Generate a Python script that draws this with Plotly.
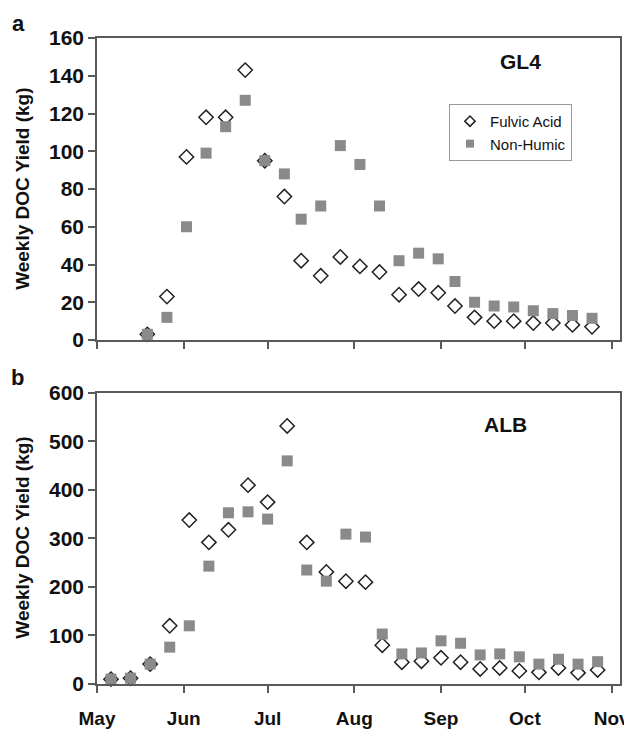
import plotly.graph_objects as go

# ---- Data ----
gl4_dates = ["2000-05-19", "2000-05-26", "2000-06-02", "2000-06-09", "2000-06-16", "2000-06-23",
             "2000-06-30", "2000-07-07", "2000-07-13", "2000-07-20", "2000-07-27", "2000-08-03",
             "2000-08-10", "2000-08-17", "2000-08-24", "2000-08-31", "2000-09-06", "2000-09-13",
             "2000-09-20", "2000-09-27", "2000-10-04", "2000-10-11", "2000-10-18", "2000-10-25"]
gl4_fulvic = [3, 23, 97, 118, 118, 143, 95, 76, 42, 34, 44, 39, 36, 24, 27, 25, 18, 12, 10, 10, 9, 9, 8, 7]
gl4_nonhumic = [3, 12, 60, 99, 113, 127, 95, 88, 64, 71, 103, 93, 71, 42, 46, 43, 31, 20, 18, 17.5, 15.5, 14, 13, 11.5]

alb_dates = ["2000-05-06", "2000-05-13", "2000-05-20", "2000-05-27", "2000-06-03", "2000-06-10",
             "2000-06-17", "2000-06-24", "2000-07-01", "2000-07-08", "2000-07-15", "2000-07-22",
             "2000-07-29", "2000-08-05", "2000-08-11", "2000-08-18", "2000-08-25", "2000-09-01",
             "2000-09-08", "2000-09-15", "2000-09-22", "2000-09-29", "2000-10-06", "2000-10-13",
             "2000-10-20", "2000-10-27"]
alb_fulvic = [10, 12, 41, 120, 338, 292, 318, 410, 375, 532, 292, 231, 212, 210, 80, 45, 47, 54,
              45, 31, 33, 27, 24, 33, 23, 29]
alb_nonhumic = [10, 12, 41, 76, 120, 243, 353, 355, 340, 460, 235, 212, 309, 303, 103, 62, 64, 89,
                84, 60, 62, 56, 41, 51, 41, 46]

month_ticks = ["2000-05-01", "2000-06-01", "2000-07-01", "2000-08-01", "2000-09-01",
               "2000-10-01", "2000-11-01"]
month_labels = ["May", "Jun", "Jul", "Aug", "Sep", "Oct", "Nov"]
x_range = ["2000-05-01", "2000-11-04"]

FONT = "Liberation Sans, Arial, sans-serif"
SQ_COLOR = "#8a8a8a"
AX_COLOR = "#5a5a5a"

fig = go.Figure()

def add_panel(dates, fulvic, nonhumic, xa, ya):
    fig.add_trace(go.Scatter(x=dates, y=fulvic, mode="markers", xaxis=xa, yaxis=ya,
                             showlegend=False, cliponaxis=False,
                             marker=dict(symbol="diamond", size=11, color="white",
                                         line=dict(color="#222222", width=1.5))))
    fig.add_trace(go.Scatter(x=dates, y=nonhumic, mode="markers", xaxis=xa, yaxis=ya,
                             showlegend=False, cliponaxis=False,
                             marker=dict(symbol="square", size=11, color=SQ_COLOR,
                                         line=dict(width=0))))

add_panel(gl4_dates, gl4_fulvic, gl4_nonhumic, "x", "y")
add_panel(alb_dates, alb_fulvic, alb_nonhumic, "x2", "y2")

# legend-only entries (smaller symbols, as in the reference legend)
fig.add_trace(go.Scatter(x=[None], y=[None], mode="markers", name="Fulvic Acid", xaxis="x", yaxis="y",
                         marker=dict(symbol="diamond", size=8, color="white",
                                     line=dict(color="#222222", width=1.5))))
fig.add_trace(go.Scatter(x=[None], y=[None], mode="markers", name="Non-Humic", xaxis="x", yaxis="y",
                         marker=dict(symbol="square", size=8, color=SQ_COLOR, line=dict(width=0))))

xcommon = dict(type="date", range=x_range, tickmode="array", tickvals=month_ticks,
               ticks="outside", ticklen=7, tickwidth=1.5, tickcolor=AX_COLOR,
               showline=True, linecolor=AX_COLOR, linewidth=1.5, mirror=True,
               showgrid=False, zeroline=False, automargin=False)
ycommon = dict(ticks="outside", ticklen=7, tickwidth=1.5, tickcolor=AX_COLOR,
               showline=True, linecolor=AX_COLOR, linewidth=1.5, mirror=True,
               showgrid=False, zeroline=False, automargin=False,
               tickfont=dict(family=FONT, size=21, color="#111111", weight="bold"))

# page body has an 8px default margin, so the figure is 8px smaller on each side
fig.update_layout(
    width=624, height=722,
    margin=dict(l=89, r=12, t=30, b=46, autoexpand=False),
    paper_bgcolor="white", plot_bgcolor="white",
    font=dict(family=FONT, color="#111111"),
    xaxis=dict(**xcommon, anchor="y", showticklabels=False),
    yaxis=dict(**ycommon, domain=[0.5325, 1.0], range=[0, 160], dtick=20, anchor="x"),
    xaxis2=dict(**xcommon, anchor="y2", ticktext=month_labels, ticklabelstandoff=9,
                tickfont=dict(family=FONT, size=19, color="#111111", weight="bold")),
    yaxis2=dict(**ycommon, domain=[0.0, 0.4505], range=[0, 600], dtick=100, anchor="x2"),
    showlegend=True,
    legend=dict(x=0.673, y=0.898, xanchor="left", yanchor="top",
                bgcolor="white", bordercolor="#9a9a9a", borderwidth=1,
                font=dict(family=FONT, size=15, color="#111111"),
                itemwidth=30, tracegroupgap=0),
)

ytitle = "Weekly DOC Yield (kg)"
annos = [
    dict(text="a", x=-0.151, y=1.023, xref="paper", yref="paper", xanchor="center", yanchor="middle",
         showarrow=False, font=dict(family=FONT, size=22, weight="bold", color="#111111")),
    dict(text="b", x=-0.152, y=0.474, xref="paper", yref="paper", xanchor="center", yanchor="middle",
         showarrow=False, font=dict(family=FONT, size=22, weight="bold", color="#111111")),
    dict(text="GL4", x=0.810, y=0.963, xref="paper", yref="paper", xanchor="center", yanchor="middle",
         showarrow=False, font=dict(family=FONT, size=21, weight="bold", color="#111111")),
    dict(text="ALB", x=0.782, y=0.401, xref="paper", yref="paper", xanchor="center", yanchor="middle",
         showarrow=False, font=dict(family=FONT, size=21, weight="bold", color="#111111")),
    dict(text=ytitle, textangle=-90, x=-0.144, y=0.766, xref="paper", yref="paper",
         xanchor="center", yanchor="middle", showarrow=False,
         font=dict(family=FONT, size=19, weight="bold", color="#111111")),
    dict(text=ytitle, textangle=-90, x=-0.144, y=0.226, xref="paper", yref="paper",
         xanchor="center", yanchor="middle", showarrow=False,
         font=dict(family=FONT, size=19, weight="bold", color="#111111")),
]
fig.update_layout(annotations=annos)

fig.write_html("out.html")
